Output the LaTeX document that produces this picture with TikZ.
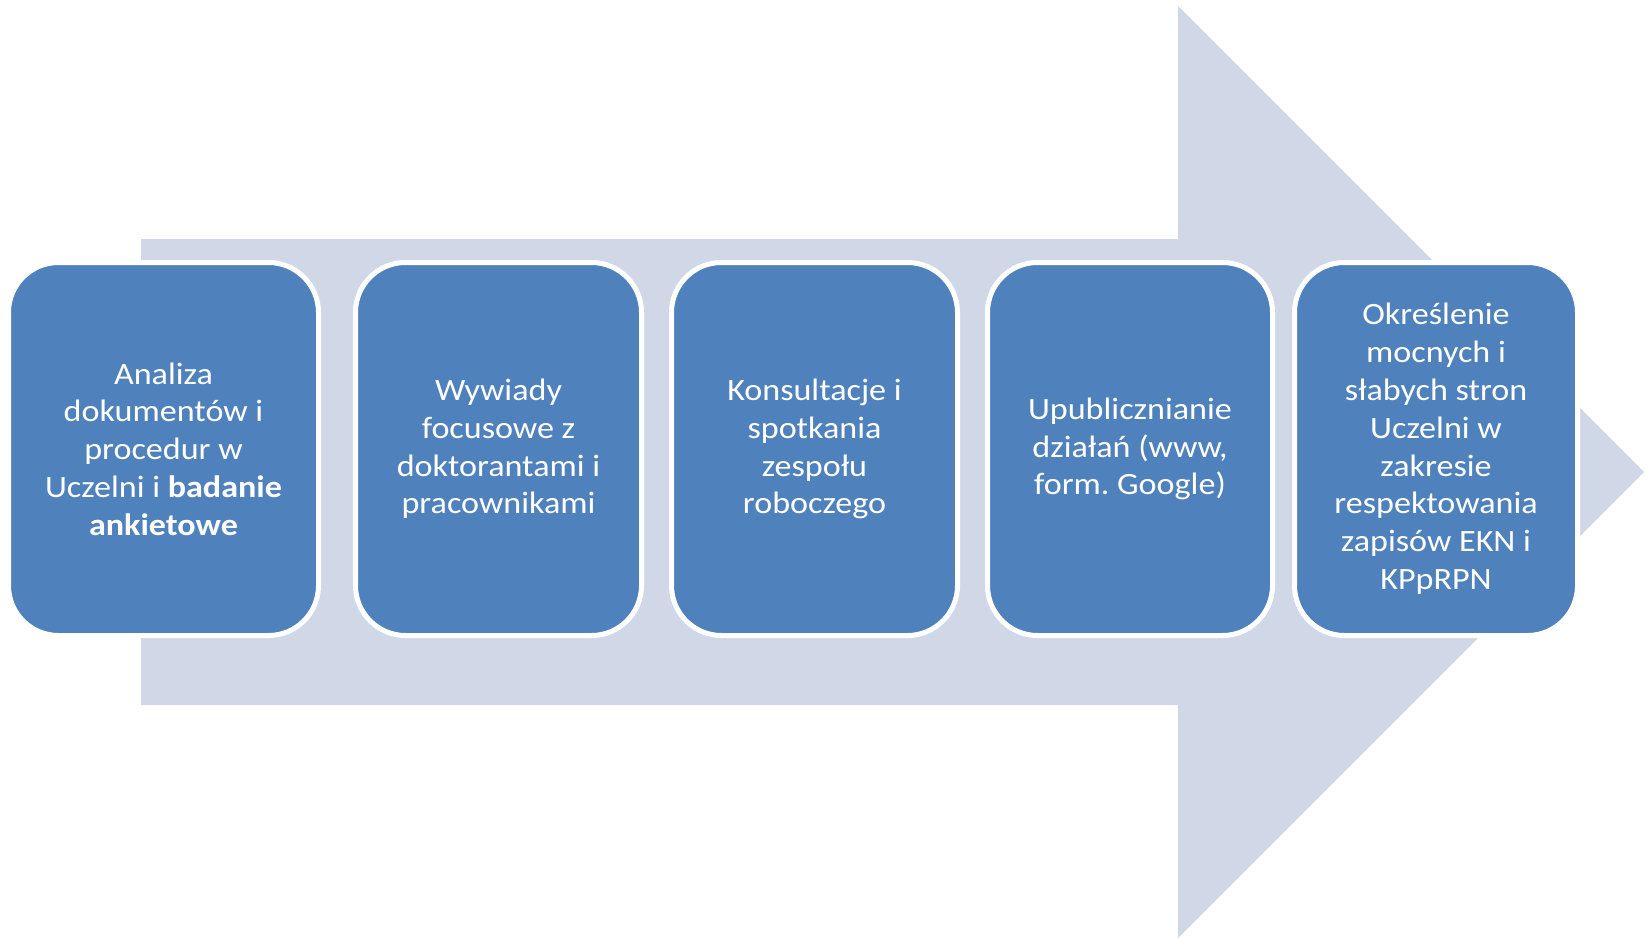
\documentclass[tikz,border=0pt]{standalone}
\usepackage{fontspec}
\setmainfont{Carlito}[FakeStretch=1.1]
\frenchspacing
\definecolor{stepblue}{HTML}{4F81BD}
\definecolor{shaftgrey}{HTML}{D0D8E8}

\begin{document}
\begin{tikzpicture}[x=1pt, y=-1pt,
    stepbox/.style={fill=stepblue, draw=white, line width=5pt, rounded corners=50pt,
      minimum height=373pt, inner sep=0pt, align=center, text=white,
      font=\fontsize{31}{37.8}\selectfont}]
    \useasboundingbox (0,0) rectangle (1646,937);
    \fill[shaftgrey] (141,239) -- (1178,239) -- (1178,6) -- (1644,472)
        -- (1178,938) -- (1178,705) -- (141,705) -- cycle;
    \path (163.5,449) node[name=analiza, stepbox, minimum width=310pt]
        {Analiza\\dokumentów i\\procedur w\\Uczelni i \textbf{badanie}\\\textbf{ankietowe}};
    \path (498.5,449) node[name=wywiady, stepbox, minimum width=286pt]
        {Wywiady\\focusowe z\\doktorantami i\\pracownikami};
    \path (814.5,449) node[name=konsultacje, stepbox, minimum width=286pt]
        {Konsultacje i\\spotkania\\zespołu\\roboczego};
    \path (1130,449) node[name=upublicznianie, stepbox, minimum width=285pt]
        {Upublicznianie\\działań (www,\\form. Google)};
    \path (1436,449) node[name=okreslenie, stepbox, minimum width=283pt]
        {Określenie\\mocnych i\\słabych stron\\Uczelni w\\zakresie\\respektowania\\zapisów EKN i\\KPpRPN};
\end{tikzpicture}
\end{document}
